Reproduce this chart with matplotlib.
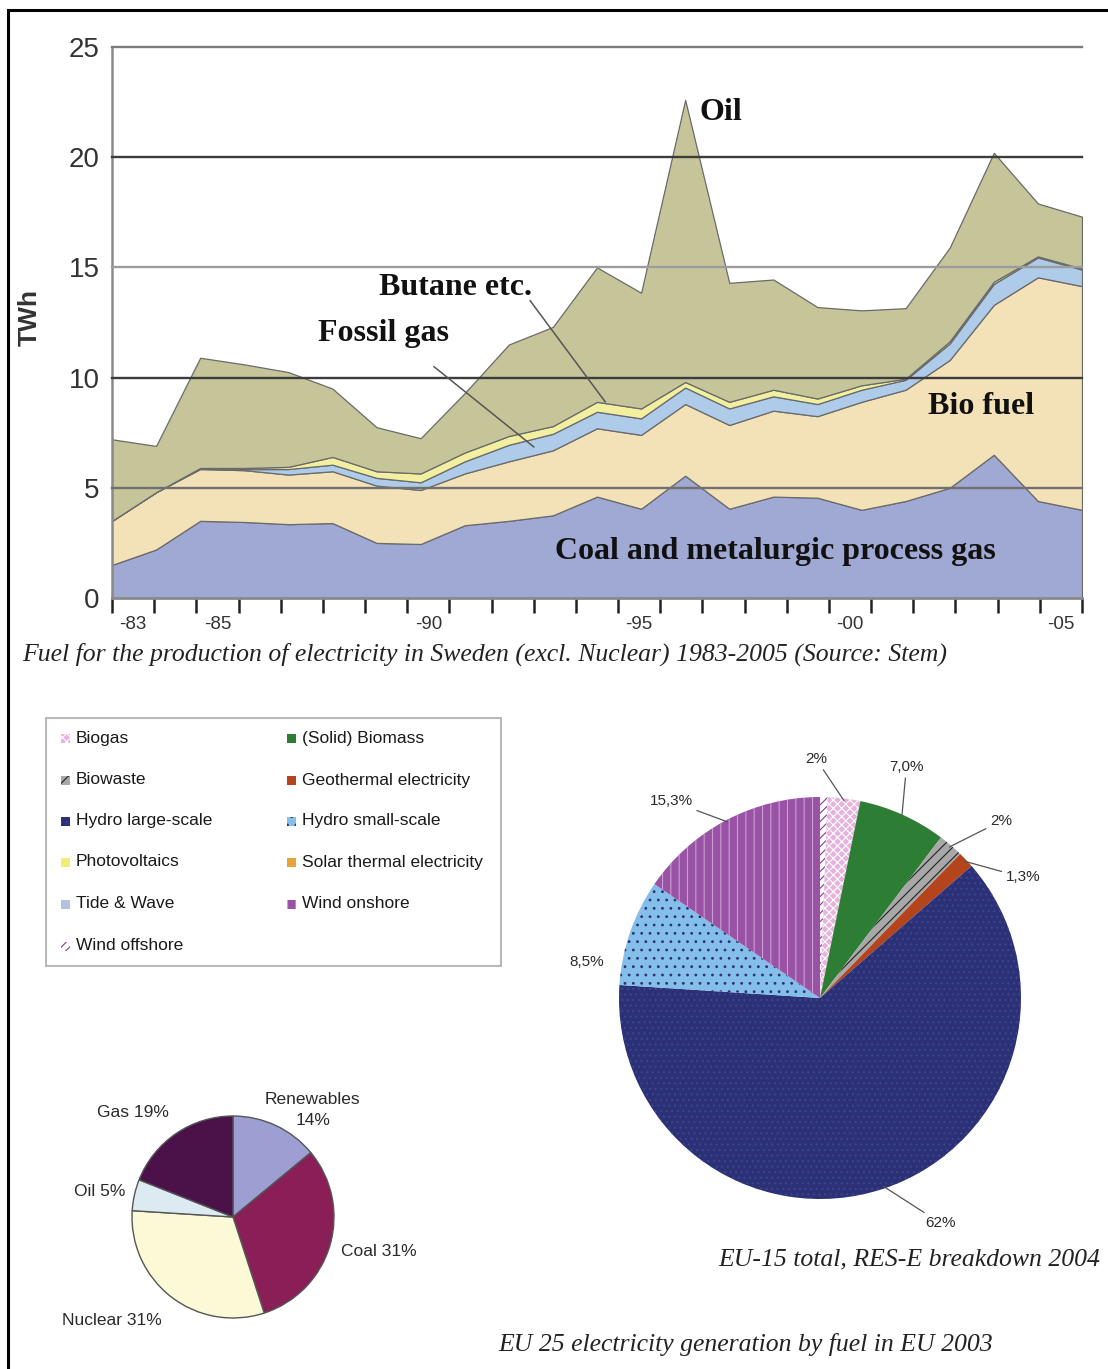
import numpy as np
import matplotlib
matplotlib.use('Agg')
import matplotlib.pyplot as plt
from matplotlib.patches import Rectangle
from matplotlib.lines import Line2D

W, H, DPI = 1108, 1369, 100
plt.rcParams['font.family'] = ['Liberation Sans', 'DejaVu Sans']
plt.rcParams['hatch.linewidth'] = 0.8

# ---------------- data: Swedish fuel for electricity (TWh) ----------------
years = list(range(1983, 2006))
coal = [1.5, 2.2, 3.5, 3.45, 3.35, 3.4, 2.5, 2.45, 3.3, 3.5, 3.75, 4.6, 4.05,
        5.55, 4.05, 4.6, 4.55, 4.0, 4.4, 5.0, 6.5, 4.4, 4.0]
bio_fuel = [2.0, 2.6, 2.35, 2.35, 2.25, 2.35, 2.6, 2.45, 2.35, 2.7, 2.95, 3.1,
            3.35, 3.25, 3.8, 3.9, 3.7, 4.9, 5.05, 5.8, 6.8, 10.15, 10.15]
fossil_gas = [0.0, 0.0, 0.05, 0.05, 0.25, 0.3, 0.35, 0.35, 0.55, 0.75, 0.75,
              0.75, 0.75, 0.75, 0.75, 0.65, 0.55, 0.55, 0.45, 0.75, 0.95, 0.9, 0.75]
butane = [0.0, 0.0, 0.0, 0.05, 0.1, 0.35, 0.3, 0.4, 0.4, 0.4, 0.35, 0.45, 0.45,
          0.25, 0.3, 0.3, 0.25, 0.2, 0.05, 0.1, 0.1, 0.05, 0.05]
oil = [3.7, 2.1, 5.0, 4.7, 4.3, 3.1, 2.0, 1.6, 2.7, 4.15, 4.5, 6.1, 5.25,
       12.8, 5.4, 5.0, 4.15, 3.4, 3.2, 4.25, 5.85, 2.4, 2.35]
layer_colors = ['#a0a8d4', '#f3e1b8', '#aecbe9', '#f2f0a0', '#c6c59a']
year_tick_years = [1983, 1985, 1990, 1995, 2000, 2005]
year_tick_labels = ['-83', '-85', '-90', '-95', '-00', '-05']
y_ticks = [0, 5, 10, 15, 20, 25]
grid_colors = ['#888888', '#707070', '#3c3c3c', '#9c9c9c', '#3c3c3c', '#7c7c7c']

# ---------------- data: EU-15 RES-E breakdown 2004 ----------------
legend_names = ['Biogas', 'Biowaste', 'Hydro large-scale', 'Photovoltaics',
                'Tide & Wave', 'Wind offshore', '(Solid) Biomass',
                'Geothermal electricity', 'Hydro small-scale',
                'Solar thermal electricity', 'Wind onshore']
res_style = {
    'Biogas': ('#e6b3dd', 'xxxx', '#ffffff'),
    'Biowaste': ('#a8a8a8', '///', '#222222'),
    'Hydro large-scale': ('#2c3175', '...', '#3c4496'),
    'Photovoltaics': ('#eeee77', None, None),
    'Tide & Wave': ('#b4c2e2', None, None),
    'Wind offshore': ('#ffffff', '////', '#7b3f8c'),
    '(Solid) Biomass': ('#2e7d34', None, None),
    'Geothermal electricity': ('#b4441c', None, None),
    'Hydro small-scale': ('#84bfea', '..', '#2c3175'),
    'Solar thermal electricity': ('#e7a33a', None, None),
    'Wind onshore': ('#9a52a6', '||', '#c7a2cf'),
}
res_pie_names = ['Wind offshore', 'Biogas', '(Solid) Biomass', 'Biowaste',
                 'Geothermal electricity', 'Hydro large-scale',
                 'Hydro small-scale', 'Wind onshore']
res_values = [0.6, 2.6, 7.0, 2.0, 1.3, 62.0, 8.5, 15.3]
res_texts = ['', '2%', '7,0%', '2%', '1,3%', '62%', '8,5%', '15,3%']
# label anchor positions (pie units) and whether a leader line is drawn
res_text_pos = [None, (-0.02, 1.19), (0.43, 1.15), (0.90, 0.88), (1.01, 0.60),
                (0.60, -1.12), (-1.16, 0.18), (-0.74, 0.98)]
res_leader = [False, True, True, True, True, True, False, True]

# ---------------- data: EU-25 generation by fuel 2003 ----------------
eu25_names = ['Renewables', 'Coal', 'Nuclear', 'Oil', 'Gas']
eu25_values = [14, 31, 31, 5, 19]
eu25_colors = ['#9d9ed2', '#8a1f58', '#fbf9d6', '#dcebf1', '#4b1249']
eu25_texts = ['Renewables\n14%', 'Coal 31%', 'Nuclear 31%', 'Oil 5%', 'Gas 19%']
eu25_text_pos = [(0.79, 1.06), (1.44, -0.34), (-1.20, -1.02), (-1.32, 0.25), (-0.99, 1.03)]


def rect(x0, y0, x1, y1):
    return [x0 / W, 1 - y1 / H, (x1 - x0) / W, (y1 - y0) / H]


fig = plt.figure(figsize=(W / DPI, H / DPI), dpi=DPI, facecolor='white')

# ================= top area chart =================
ax = fig.add_axes(rect(112, 47, 1082, 598))
ax.stackplot(years, coal, bio_fuel, fossil_gas, butane, oil,
             colors=layer_colors, edgecolor='#6a6a6a', linewidth=0.9, zorder=2)
for yv, gc in zip(y_ticks, grid_colors):
    if yv > 0:
        ax.axhline(yv, color=gc, lw=1.7, zorder=3, clip_on=False)
ax.set_xlim(years[0], years[-1])
ax.set_ylim(0, 25)
for s in ['top', 'right']:
    ax.spines[s].set_visible(False)
ax.spines['left'].set_color('#8a8a8a')
ax.spines['left'].set_linewidth(1.8)
ax.spines['bottom'].set_color('#8a8a8a')
ax.spines['bottom'].set_linewidth(2.0)
ax.spines['bottom'].set_zorder(4)
ax.set_yticks(y_ticks)
ax.tick_params(axis='y', length=0, pad=9, labelsize=20, labelcolor='#333333')
n_cat = len(years)
edges = np.linspace(years[0], years[-1], n_cat + 1)
step = edges[1] - edges[0]
ax.set_xticks(edges)
ax.set_xticklabels([])
mids = [edges[years.index(y)] + step / 2 for y in year_tick_years]
ax.set_xticks(mids, minor=True)
ax.set_xticklabels(year_tick_labels, minor=True)
ax.tick_params(axis='x', which='major', length=11, width=1.8, color='#222222',
               direction='out')
ax.tick_params(axis='x', which='minor', length=0, pad=13, labelsize=13.5,
               labelcolor='#333333')

serif = ['Liberation Serif', 'DejaVu Serif']
lab_kw = dict(family=serif, weight='bold', fontsize=23, color='#111111',
              ha='center', va='center', zorder=6)
ax.text(1996.8, 22.05, 'Oil', **lab_kw)
ax.text(1990.8, 14.1, 'Butane etc.', **lab_kw)
ax.text(1989.15, 12.0, 'Fossil gas', **lab_kw)
ax.text(2002.7, 8.67, 'Bio fuel', **lab_kw)
ax.text(1998.05, 2.09, 'Coal and metalurgic process gas', **lab_kw)
ax.annotate('', xy=(1992.57, 6.85), xytext=(1990.3, 10.5),
            arrowprops=dict(arrowstyle='-', color='#555555', lw=1.1,
                            shrinkA=0, shrinkB=0), zorder=5)
ax.annotate('', xy=(1994.19, 8.89), xytext=(1992.48, 13.5),
            arrowprops=dict(arrowstyle='-', color='#555555', lw=1.1,
                            shrinkA=0, shrinkB=0), zorder=5)

fig.text(30 / W, 1 - 318 / H, 'TWh', rotation=90, ha='center', va='center',
         fontsize=19, weight='bold', color='#333333')

cap_kw = dict(family=serif, style='italic', fontsize=18.5, color='#222222', va='center')
fig.text(22 / W, 1 - 654 / H,
         'Fuel for the production of electricity in Sweden (excl. Nuclear) 1983-2005 (Source: Stem)',
         ha='left', **cap_kw)
fig.text(1100 / W, 1 - 1259 / H, 'EU-15 total, RES-E breakdown 2004', ha='right', **cap_kw)
fig.text(498 / W, 1 - 1345 / H, 'EU 25 electricity generation by fuel in EU 2003',
         ha='left', **cap_kw)

# ================= legend box =================
lx0, ly0, lx1, ly1 = 45, 717, 502, 967
lax = fig.add_axes(rect(lx0, ly0, lx1, ly1))
lax.set_xlim(lx0, lx1)
lax.set_ylim(ly1, ly0)
lax.axis('off')
lax.add_patch(Rectangle((lx0 + 1, ly0 + 1), lx1 - lx0 - 2, ly1 - ly0 - 2,
                        fill=False, edgecolor='#b8b8b8', lw=1.5))
rows_y = [738, 780, 821, 862, 904, 946]
for i, name in enumerate(legend_names):
    col, row = divmod(i, 6)
    hx = 61 if col == 0 else 287
    yy = rows_y[row]
    fc, hatch, hc = res_style[name]
    lax.add_patch(Rectangle((hx, yy - 4.5), 9, 9, facecolor=fc,
                            edgecolor=hc if hc else 'none', hatch=hatch, lw=0))
    lax.text(hx + 15, yy, name, fontsize=12.5, color='#1a1a1a', va='center', ha='left')

# ================= RES-E pie =================
r1 = 201
pax = fig.add_axes(rect(820 - 1.3 * r1, 998 - 1.3 * r1, 820 + 1.3 * r1, 998 + 1.3 * r1))
wedges, _ = pax.pie(res_values, startangle=90, counterclock=False,
                    colors=[res_style[n][0] for n in res_pie_names])
for w, n in zip(wedges, res_pie_names):
    fc, hatch, hc = res_style[n]
    if hatch:
        w.set_hatch(hatch)
        w.set_edgecolor(hc)
    else:
        w.set_edgecolor(fc)
    w.set_linewidth(0)
pax.set_xlim(-1.3, 1.3)
pax.set_ylim(-1.3, 1.3)
pax.set_aspect('equal')
for w, t, pos, lead in zip(wedges, res_texts, res_text_pos, res_leader):
    if not t:
        continue
    th = np.deg2rad((w.theta1 + w.theta2) / 2)
    tip = (0.99 * np.cos(th), 0.99 * np.sin(th))
    if lead:
        pax.annotate(t, xy=tip, xytext=pos, ha='center', va='center',
                     fontsize=11, color='#2a2a2a',
                     arrowprops=dict(arrowstyle='-', color='#555555', lw=0.9,
                                     shrinkA=1, shrinkB=0))
    else:
        pax.text(pos[0], pos[1], t, ha='center', va='center', fontsize=11,
                 color='#2a2a2a')

# ================= EU-25 pie =================
r2 = 101
sax = fig.add_axes(rect(233 - 1.3 * r2, 1217 - 1.3 * r2, 233 + 1.3 * r2, 1217 + 1.3 * r2))
sax.pie(eu25_values, startangle=90, counterclock=False, colors=eu25_colors,
        wedgeprops=dict(edgecolor='#555555', linewidth=1.0))
sax.set_xlim(-1.3, 1.3)
sax.set_ylim(-1.3, 1.3)
sax.set_aspect('equal')
for t, pos in zip(eu25_texts, eu25_text_pos):
    sax.text(pos[0], pos[1], t, ha='center', va='center', fontsize=12.5,
             color='#2a2a2a', linespacing=1.45)

# ================= outer frame =================
fig.add_artist(Line2D([8 / W, 8 / W], [0, 1 - 10 / H], transform=fig.transFigure,
                      color='black', lw=2.2))
fig.add_artist(Line2D([8 / W, 1], [1 - 10 / H, 1 - 10 / H], transform=fig.transFigure,
                      color='black', lw=2.2))

fig.savefig('out.png', dpi=DPI, facecolor='white')
